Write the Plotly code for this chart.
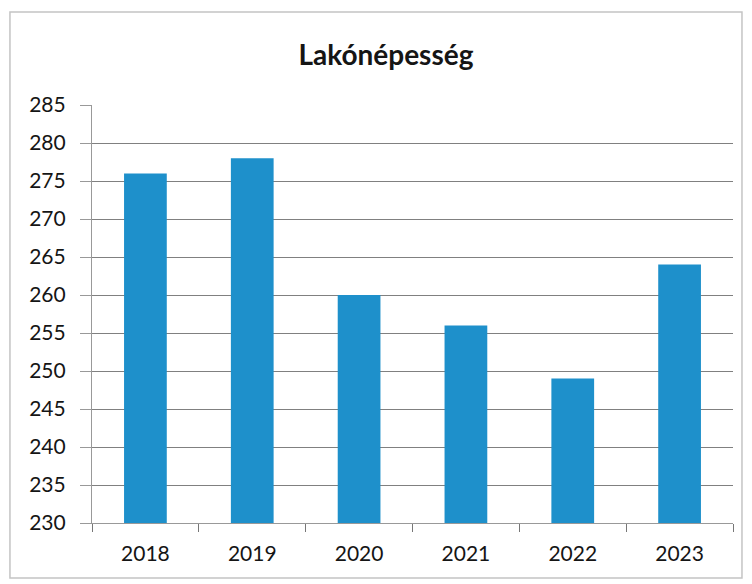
import plotly.graph_objects as go

years = ["2018", "2019", "2020", "2021", "2022", "2023"]
population = [276, 278, 260, 256, 249, 264]
y_ticks = list(range(230, 290, 5))
title_text = "Lakónépesség"

fig = go.Figure(go.Bar(x=years, y=population, marker_color="#1e90cb", marker_line_width=0))

fig.update_layout(
    width=744, height=576,
    paper_bgcolor="white", plot_bgcolor="white",
    margin=dict(l=84, r=19, t=97, b=61),
    title=dict(text="<b>" + title_text + "</b>", x=0.508, xanchor="center", y=0.918, yanchor="middle",
               font=dict(family="Lato, Open Sans, sans-serif", size=28, color="#151515")),
    font=dict(family="Lato, Open Sans, sans-serif", size=21, color="#151515"),
    showlegend=False,
    bargap=0.6,
    shapes=[dict(type="rect", xref="paper", yref="paper", x0=-0.128, x1=1.014, y0=-0.1316, y1=1.2225,
                 line=dict(color="#c4c4c4", width=1.5))],
)
fig.update_yaxes(range=[230, 285], tickvals=y_ticks, showgrid=True, gridcolor="#808080", gridwidth=1.2,
                 showline=True, linecolor="#999999", linewidth=1.2, ticks="outside", ticklen=11,
                 tickcolor="#999999", zeroline=False, ticklabelstandoff=10)
fig.update_xaxes(showline=True, linecolor="#999999", linewidth=1.2, ticks="outside", ticklen=8,
                 tickcolor="#777777", tickson="boundaries", showgrid=False, ticklabelstandoff=12)

fig.write_html("out.html")
